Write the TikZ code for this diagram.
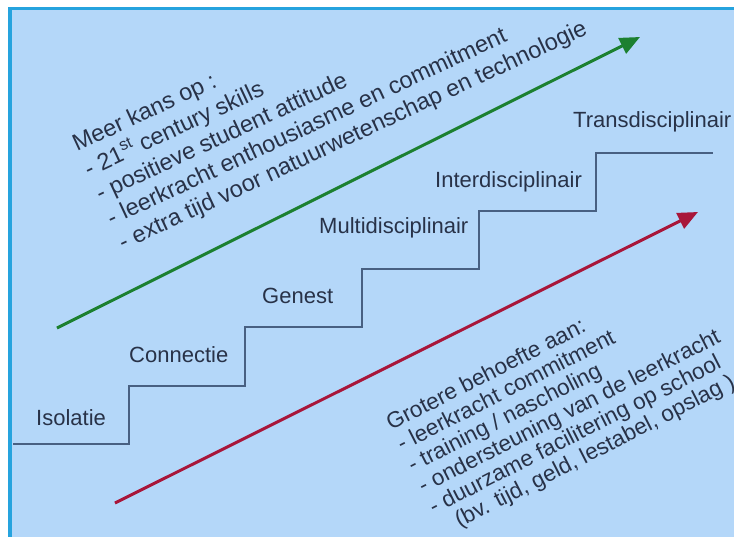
\documentclass[tikz,border=0pt]{standalone}
\usepackage{fontspec}
\setmainfont{Liberation Sans}
\usetikzlibrary{arrows.meta}
\definecolor{bgblue}{RGB}{180,215,249}
\definecolor{frameblue}{RGB}{38,163,222}
\definecolor{stairline}{RGB}{72,96,130}
\definecolor{txt}{RGB}{40,50,72}
\definecolor{arrgreen}{RGB}{28,128,48}
\definecolor{arrred}{RGB}{168,22,58}
\begin{document}
\begin{tikzpicture}[x=1pt,y=-1pt,
  lbl/.style={anchor=base west, inner sep=0pt, text=txt, font=\fontsize{22}{26}\selectfont},
  greentxt/.style={anchor=base west, inner sep=0pt, text=txt, rotate=25, font=\fontsize{23.5}{27}\selectfont},
  redtxt/.style={anchor=base west, inner sep=0pt, text=txt, rotate=27, font=\fontsize{22.5}{23.5}\selectfont},
  bigarrow/.style={line width=3pt, -{Triangle[length=20pt,width=17pt]}},
  stair/.style={draw=stairline, line width=1.8pt}]
\useasboundingbox (0,0) rectangle (734,536);
\begin{scope}
\clip (0,0) rectangle (734,536);
\fill[white] (0,0) rectangle (734,536);
\fill[bgblue] (10,8.5) rectangle (740,540);
\draw[frameblue, line width=3.5pt] (10,540) -- (10,8.5) -- (740,8.5);
% staircase
\draw[stair] (13,444) -- (129,444) -- (129,386) -- (245,386) -- (245,327) -- (362,327)
  -- (362,269) -- (479,269) -- (479,211) -- (596,211) -- (596,153) -- (713,153);
% step labels
\node[lbl] (iso) at (36,425) {Isolatie};
\node[lbl] (con) at (129,362) {Connectie};
\node[lbl] (gen) at (262,303) {Genest};
\node[lbl] (mul) at (319,233) {Multidisciplinair};
\node[lbl] (int) at (435,187) {Interdisciplinair};
\node[lbl] (tra) at (573,127) {Transdisciplinair};
% arrows
\coordinate (gs) at (57,328);
\coordinate (ge) at (640,37);
\coordinate (rs) at (115,503);
\coordinate (re) at (698,212);
\draw[bigarrow, arrgreen] (gs) -- (ge);
\draw[bigarrow, arrred] (rs) -- (re);
% rotated text blocks
\node[greentxt] (gtxt) at (77,152) {\begin{tabular}[t]{@{}l@{}}Meer kans op :\\
- 21\textsuperscript{st} century skills\\
- positieve student attitude\\
- leerkracht enthousiasme en commitment\\
- extra tijd voor natuurwetenschap en technologie\end{tabular}};
\node[redtxt] (rtxt) at (391,431) {\begin{tabular}[t]{@{}l@{}}Grotere behoefte aan:\\
- leerkracht commitment\\
- training / nascholing\\
- ondersteuning van de leerkracht\\
- duurzame facilitering op school\\
\hspace{0.75em}(bv. tijd, geld, lestabel, opslag )\end{tabular}};
\end{scope}
\end{tikzpicture}
\end{document}
